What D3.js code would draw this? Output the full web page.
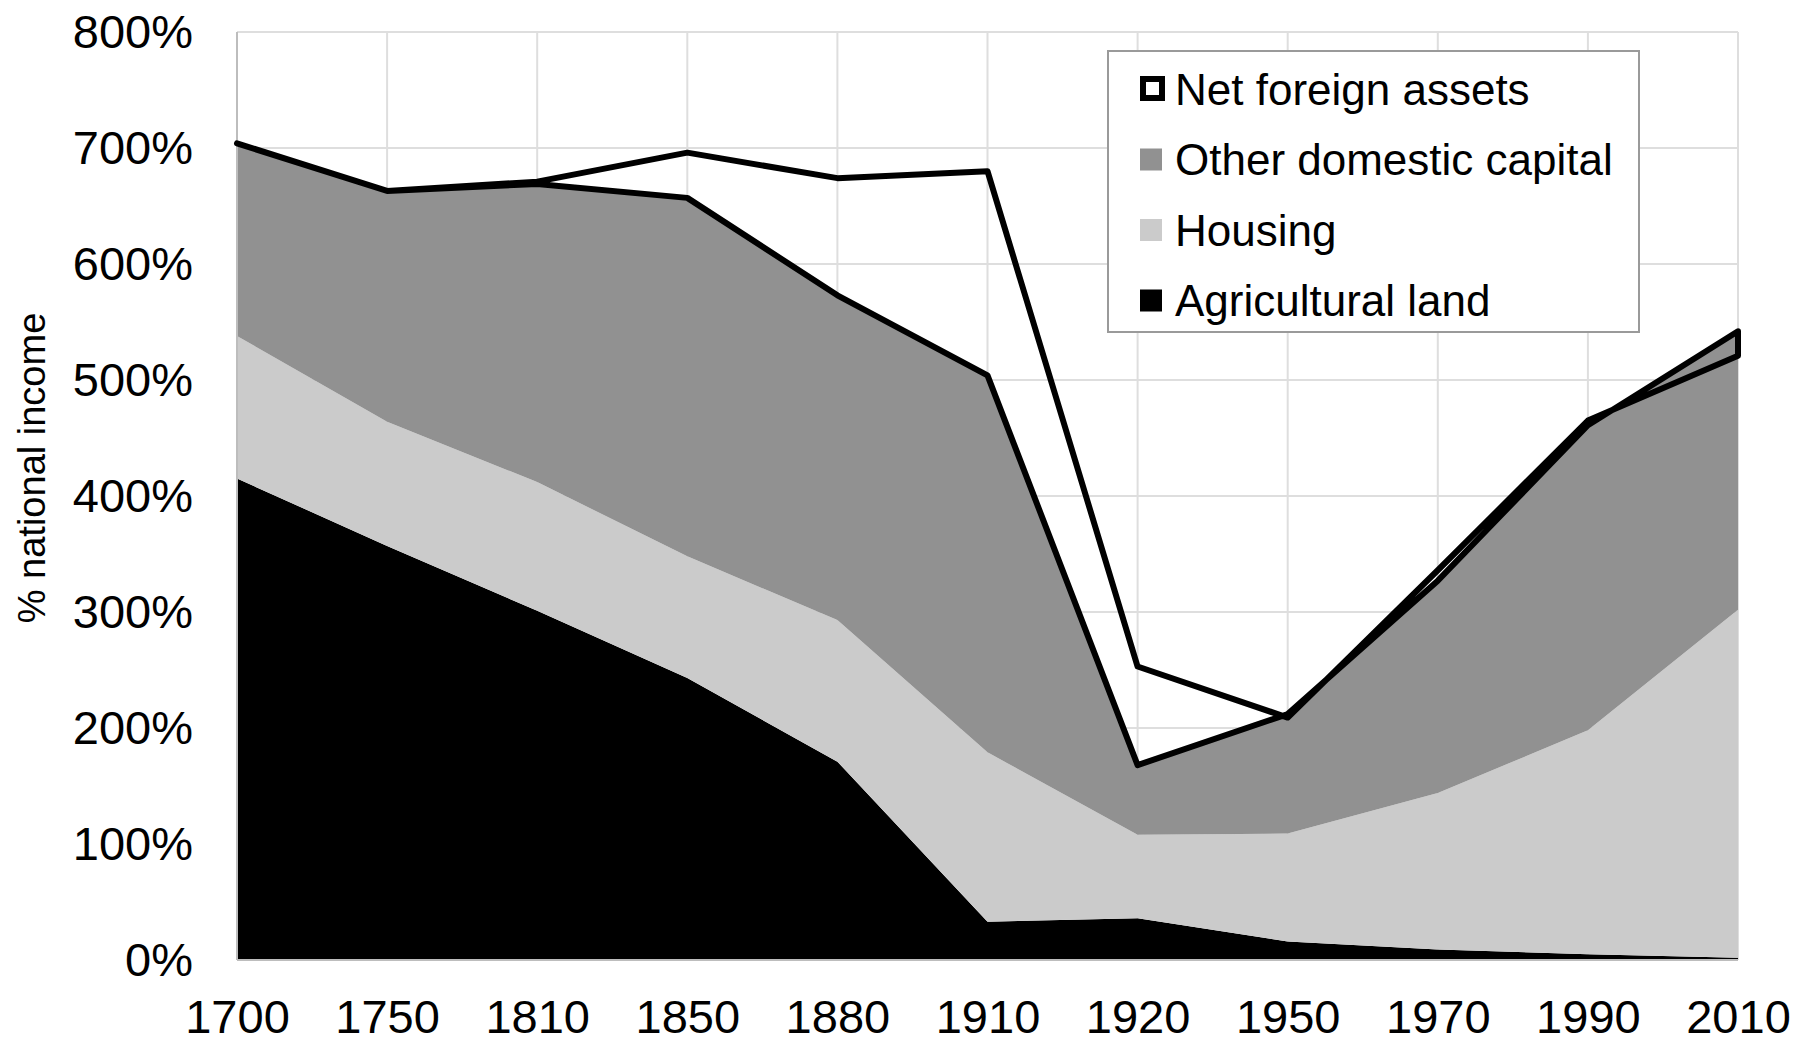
<!doctype html>
<html lang="en">
<head>
    <meta charset="UTF-8">
    <title>Capital in Britain 1700-2010</title>
    <script src="https://d3js.org/d3.v7.min.js"></script>
    <style>
      body { margin: 0; background: #fff; }
      text { font-family: "Liberation Sans", Arial, sans-serif; fill: #000; }
    </style>
</head>
<body>
    <svg width="1796" height="1045"></svg>

    <script>

      // Data (% of national income)
      const years = ["1700", "1750", "1810", "1850", "1880", "1910", "1920", "1950", "1970", "1990", "2010"];
      const agriculturalLand = [415, 357, 301, 243, 171, 33, 36, 16, 9, 5, 2];
      const housing = [123, 107, 111, 105, 122, 146, 72, 93, 135, 193, 300];
      const otherDomestic = [166, 199, 257, 309, 280, 325, 60, 103, 183, 263, 240];
      const netForeign = [0, 0, 2, 39, 101, 176, 85, -3, 9, 4, -21];
      const yTicks = [0, 100, 200, 300, 400, 500, 600, 700, 800];

      const seriesKeys = ["agri", "housing", "other", "nfa"];
      const rows = years.map((yr, i) => ({
        year: yr,
        agri: agriculturalLand[i],
        housing: housing[i],
        other: otherDomestic[i],
        nfa: netForeign[i]
      }));

      const svg = d3.select("svg");
      const plotLeft = 237, plotRight = 1738, plotTop = 32, plotBottom = 960;

      const x = d3.scalePoint().domain(years).range([plotLeft, plotRight]).padding(0);
      const y = d3.scaleLinear().domain([0, 800]).range([plotBottom, plotTop]);

      // Gridlines
      svg.append("g")
          .selectAll("line")
          .data(yTicks)
          .join("line")
          .attr("x1", plotLeft).attr("x2", plotRight)
          .attr("y1", d => y(d)).attr("y2", d => y(d))
          .attr("stroke", "#dedede").attr("stroke-width", 2);

      svg.append("g")
          .selectAll("line")
          .data(years)
          .join("line")
          .attr("x1", d => x(d)).attr("x2", d => x(d))
          .attr("y1", plotTop).attr("y2", plotBottom)
          .attr("stroke", "#dedede").attr("stroke-width", 2);

      // Stacked areas
      const stacked = d3.stack().keys(seriesKeys)(rows);
      const area = d3.area()
          .x(d => x(d.data.year))
          .y0(d => y(d[0]))
          .y1(d => y(d[1]));

      const fills = { agri: "#000000", housing: "#cbcbcb", other: "#919191" };

      svg.append("g")
          .selectAll("path")
          .data(stacked.filter(s => s.key !== "nfa"))
          .join("path")
          .attr("d", area)
          .attr("fill", s => fills[s.key]);

      // axis lines (left + bottom)
      svg.append("line")
          .attr("x1", plotLeft).attr("x2", plotLeft).attr("y1", plotTop).attr("y2", plotBottom)
          .attr("stroke", "#bdbdbd").attr("stroke-width", 2);
      svg.append("line")
          .attr("x1", plotLeft).attr("x2", plotRight).attr("y1", plotBottom).attr("y2", plotBottom)
          .attr("stroke", "#bdbdbd").attr("stroke-width", 2);

      // Net foreign assets: outline only
      svg.append("path")
          .datum(stacked.find(s => s.key === "nfa"))
          .attr("d", area)
          .attr("fill", "none")
          .attr("stroke", "#000")
          .attr("stroke-width", 6)
          .attr("stroke-linejoin", "round");

      // Y axis labels
      const yAxis = d3.axisLeft(y)
          .tickValues(yTicks)
          .tickFormat(d => d + "%")
          .tickSize(0)
          .tickPadding(44);
      svg.append("g")
          .attr("transform", "translate(" + plotLeft + ",0)")
          .call(yAxis)
          .call(g => g.select(".domain").remove())
          .selectAll("text")
          .attr("font-size", 47)
          .attr("font-family", "Liberation Sans, Arial, sans-serif");

      // X axis labels
      const xAxis = d3.axisBottom(x).tickSize(0).tickPadding(40);
      svg.append("g")
          .attr("transform", "translate(0," + plotBottom + ")")
          .call(xAxis)
          .call(g => g.select(".domain").remove())
          .selectAll("text")
          .attr("font-size", 47)
          .attr("font-family", "Liberation Sans, Arial, sans-serif");

      // Y axis title
      svg.append("text")
          .attr("transform", "translate(45,468) rotate(-90)")
          .attr("text-anchor", "middle")
          .attr("font-size", 38)
          .text("% national income");

      // Legend
      const legendItems = [
        { label: "Net foreign assets", fill: "#fff", stroke: "#000" },
        { label: "Other domestic capital", fill: "#919191" },
        { label: "Housing", fill: "#cbcbcb" },
        { label: "Agricultural land", fill: "#000" }
      ];

      const legend = svg.append("g");
      legend.append("rect")
          .attr("x", 1108).attr("y", 51)
          .attr("width", 531).attr("height", 281)
          .attr("fill", "#fff")
          .attr("stroke", "#9a9a9a").attr("stroke-width", 2);

      const item = legend.selectAll("g")
          .data(legendItems)
          .join("g")
          .attr("transform", (d, i) => "translate(1140," + (89 + i * 70.5) + ")");

      item.append("rect")
          .attr("x", d => d.stroke ? 3 : 0)
          .attr("y", d => d.stroke ? -10 : -11)
          .attr("width", d => d.stroke ? 19 : 22)
          .attr("height", d => d.stroke ? 19 : 22)
          .attr("fill", d => d.fill)
          .attr("stroke", d => d.stroke || "none")
          .attr("stroke-width", 6);

      item.append("text")
          .attr("x", 35)
          .attr("dy", "0.36em")
          .attr("font-size", 44)
          .text(d => d.label);

    </script>
</body>
</html>
